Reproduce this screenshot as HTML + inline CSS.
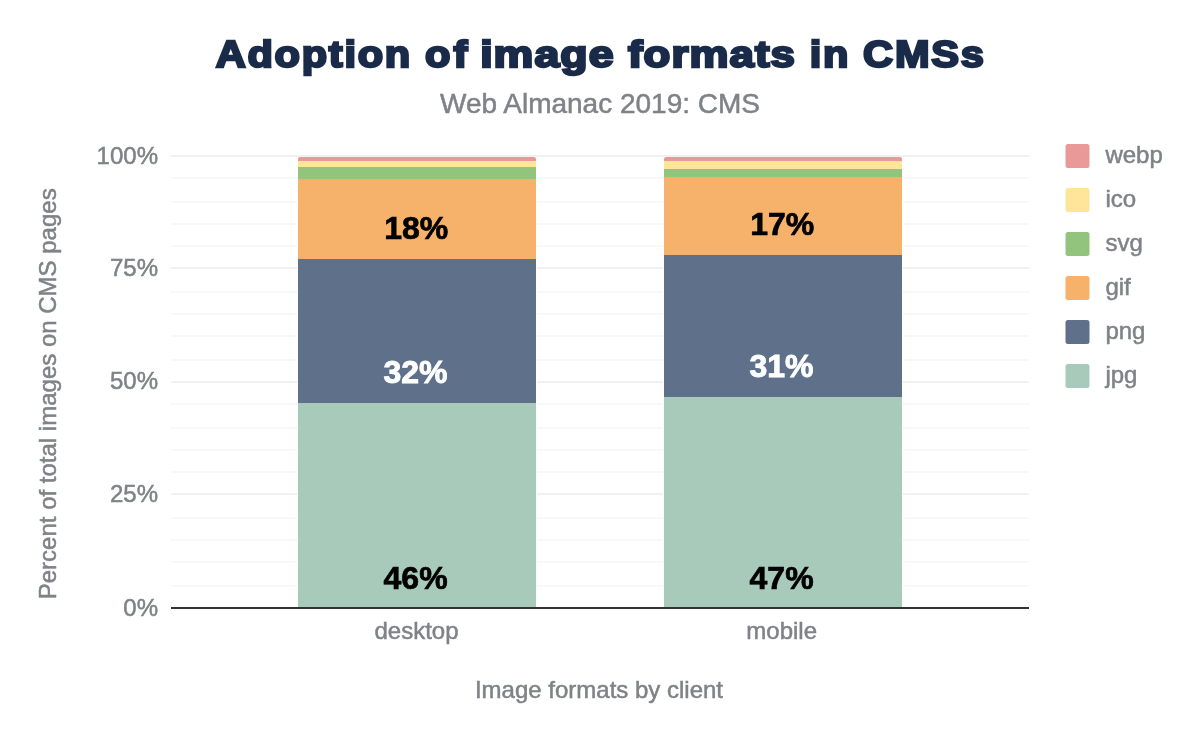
<!DOCTYPE html>
<html lang="en">
<head>
<meta charset="utf-8">
<title>Adoption of image formats in CMSs</title>
<style>
html,body{margin:0;padding:0;background:#fff;}
body{width:1200px;height:742px;overflow:hidden;font-family:"Liberation Sans",Arial,sans-serif;}
svg{display:block;}
text{font-family:"Liberation Sans",Arial,sans-serif;}
.title{font-weight:bold;font-size:37.8px;fill:#1a2b49;stroke:#1a2b49;stroke-width:2.4px;stroke-linejoin:miter;}
.sub{font-size:28px;fill:#7f8286;stroke:#7f8286;stroke-width:0.5px;}
.ax{font-size:24px;fill:#7f8286;stroke:#7f8286;stroke-width:0.5px;}
.lbl{font-size:32px;font-weight:bold;}
</style>
</head>
<body>
<svg width="1200" height="742" viewBox="0 0 1200 742">
<rect width="1200" height="742" fill="#fff"/>
<!-- gridlines -->
<g id="grid" stroke="#f7f9f9" stroke-width="2">
<line x1="171" x2="1029" y1="178" y2="178"/>
<line x1="171" x2="1029" y1="202" y2="202"/>
<line x1="171" x2="1029" y1="224" y2="224"/>
<line x1="171" x2="1029" y1="246" y2="246"/>
<line x1="171" x2="1029" y1="292" y2="292"/>
<line x1="171" x2="1029" y1="314" y2="314"/>
<line x1="171" x2="1029" y1="336" y2="336"/>
<line x1="171" x2="1029" y1="360" y2="360"/>
<line x1="171" x2="1029" y1="404" y2="404"/>
<line x1="171" x2="1029" y1="428" y2="428"/>
<line x1="171" x2="1029" y1="450" y2="450"/>
<line x1="171" x2="1029" y1="472" y2="472"/>
<line x1="171" x2="1029" y1="518" y2="518"/>
<line x1="171" x2="1029" y1="540" y2="540"/>
<line x1="171" x2="1029" y1="562" y2="562"/>
<line x1="171" x2="1029" y1="586" y2="586"/>
</g>
<g id="gridmajor" stroke="#f1f1f1" stroke-width="2">
<line x1="171" x2="1029" y1="156" y2="156"/>
<line x1="171" x2="1029" y1="268" y2="268"/>
<line x1="171" x2="1029" y1="382" y2="382"/>
<line x1="171" x2="1029" y1="494" y2="494"/>
</g>
<!-- bars desktop -->
<rect x="297" y="157" width="240" height="450" fill="#fff"/>
<rect x="663" y="157" width="240" height="450" fill="#fff"/>
<g id="desktop">
<path d="M298 161V159a2 2 0 0 1 2-2H534a2 2 0 0 1 2 2V161Z" fill="#ea9999"/>
<rect x="298" y="161" width="238" height="6" fill="#ffe599"/>
<rect x="298" y="167" width="238" height="12" fill="#93c47d"/>
<rect x="298" y="179" width="238" height="80" fill="#f6b26b"/>
<rect x="298" y="259" width="238" height="144" fill="#5f708a"/>
<rect x="298" y="403" width="238" height="204" fill="#a7cabb"/>
</g>
<g id="mobile">
<path d="M664 161V159a2 2 0 0 1 2-2H900a2 2 0 0 1 2 2V161Z" fill="#ea9999"/>
<rect x="664" y="161" width="238" height="8" fill="#ffe599"/>
<rect x="664" y="169" width="238" height="8" fill="#93c47d"/>
<rect x="664" y="177" width="238" height="78" fill="#f6b26b"/>
<rect x="664" y="255" width="238" height="142" fill="#5f708a"/>
<rect x="664" y="397" width="238" height="210" fill="#a7cabb"/>
</g>
<!-- axis -->
<line x1="171" x2="1029" y1="608" y2="608" stroke="#333" stroke-width="2"/>
<!-- title -->
<text class="title" transform="scale(1.1,1)" y="67.4"><tspan x="196.18" textLength="176.7" lengthAdjust="spacing">Adoption</tspan> <tspan x="386.45" textLength="38.5" lengthAdjust="spacing">of</tspan> <tspan x="436.5" textLength="122.2" lengthAdjust="spacingAndGlyphs" letter-spacing="0.9">image</tspan> <tspan x="570.9" textLength="152.7" lengthAdjust="spacingAndGlyphs" letter-spacing="0.9">formats</tspan> <tspan x="736.09" textLength="35.1" lengthAdjust="spacing">in</tspan> <tspan x="784.64" textLength="109.8" lengthAdjust="spacing">CMSs</tspan></text>
<text class="sub" x="600" y="113" text-anchor="middle">Web Almanac 2019: CMS</text>
<!-- y axis labels -->
<g class="ax" text-anchor="end">
<text x="158" y="163.5">100%</text>
<text x="158" y="276">75%</text>
<text x="158" y="389">50%</text>
<text x="158" y="502">25%</text>
<text x="158" y="615.5">0%</text>
</g>
<g class="ax" text-anchor="middle">
<text x="416.5" y="639.2">desktop</text>
<text x="781.7" y="639.2">mobile</text>
<text x="599" y="698.4">Image formats by client</text>
<text transform="translate(56.3,393.8) rotate(-90)">Percent of total images on CMS pages</text>
</g>
<!-- data labels -->
<g class="lbl" text-anchor="middle" stroke-width="0.7">
<text x="416.3" y="238.8" fill="#000" stroke="#000">18%</text>
<text x="415.5" y="382.6" fill="#fff" stroke="#fff" stroke-width="0.9">32%</text>
<text x="415.6" y="588.8" fill="#000" stroke="#000">46%</text>
<text x="782.2" y="234.8" fill="#000" stroke="#000">17%</text>
<text x="781.5" y="376.6" fill="#fff" stroke="#fff" stroke-width="0.9">31%</text>
<text x="781.6" y="588.8" fill="#000" stroke="#000">47%</text>
</g>
<!-- legend -->
<g id="legend">
<rect x="1065.5" y="144" width="24" height="24" rx="2.5" fill="#ea9999"/>
<rect x="1065.5" y="188" width="24" height="24" rx="2.5" fill="#ffe599"/>
<rect x="1065.5" y="232" width="24" height="24" rx="2.5" fill="#93c47d"/>
<rect x="1065.5" y="276" width="24" height="24" rx="2.5" fill="#f6b26b"/>
<rect x="1065.5" y="320" width="24" height="24" rx="2.5" fill="#5f708a"/>
<rect x="1065.5" y="364" width="24" height="24" rx="2.5" fill="#a7cabb"/>
<g class="ax">
<text x="1105.4" y="163">webp</text>
<text x="1105.4" y="207">ico</text>
<text x="1105.4" y="251">svg</text>
<text x="1105.4" y="295">gif</text>
<text x="1105.4" y="339">png</text>
<text x="1105.4" y="383">jpg</text>
</g>
</g>
</svg>
</body>
</html>
